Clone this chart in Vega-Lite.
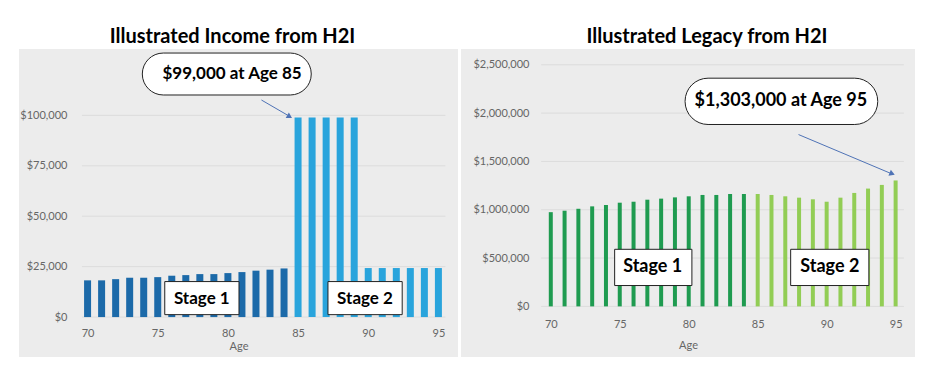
{
  "$schema": "https://vega.github.io/schema/vega-lite/v6.json",
  "padding": {"left": 19, "top": 27, "right": 0, "bottom": 0},
  "background": "white",
  "spacing": 3,
  "resolve": {"scale": {"color": "independent"}},
  "config": {
    "font": "Lato",
    "view": {"fill": "#ececec", "stroke": null},
    "axis": {"labelFont": "Lato", "labelColor": "#666666", "labelFontSize": 11, "titleFont": "Lato", "titleColor": "#666666", "titleFontSize": 11, "titleFontWeight": "normal", "grid": false, "ticks": false, "domain": false},
    "title": {"font": "Lato", "fontSize": 20, "fontWeight": "bold", "color": "#000000", "offset": 2}
  },
  "datasets": {
    "income": [
      {"age": 70, "value": 18200, "stage": "Stage 1"},
      {"age": 71, "value": 18200, "stage": "Stage 1"},
      {"age": 72, "value": 18800, "stage": "Stage 1"},
      {"age": 73, "value": 19500, "stage": "Stage 1"},
      {"age": 74, "value": 19500, "stage": "Stage 1"},
      {"age": 75, "value": 19800, "stage": "Stage 1"},
      {"age": 76, "value": 20500, "stage": "Stage 1"},
      {"age": 77, "value": 20800, "stage": "Stage 1"},
      {"age": 78, "value": 21300, "stage": "Stage 1"},
      {"age": 79, "value": 21300, "stage": "Stage 1"},
      {"age": 80, "value": 21800, "stage": "Stage 1"},
      {"age": 81, "value": 22300, "stage": "Stage 1"},
      {"age": 82, "value": 23000, "stage": "Stage 1"},
      {"age": 83, "value": 23500, "stage": "Stage 1"},
      {"age": 84, "value": 24100, "stage": "Stage 1"},
      {"age": 85, "value": 99000, "stage": "Stage 2"},
      {"age": 86, "value": 99000, "stage": "Stage 2"},
      {"age": 87, "value": 99000, "stage": "Stage 2"},
      {"age": 88, "value": 99000, "stage": "Stage 2"},
      {"age": 89, "value": 99000, "stage": "Stage 2"},
      {"age": 90, "value": 24300, "stage": "Stage 2"},
      {"age": 91, "value": 24300, "stage": "Stage 2"},
      {"age": 92, "value": 24300, "stage": "Stage 2"},
      {"age": 93, "value": 24300, "stage": "Stage 2"},
      {"age": 94, "value": 24300, "stage": "Stage 2"},
      {"age": 95, "value": 24300, "stage": "Stage 2"}
    ],
    "legacy": [
      {"age": 70, "value": 975000, "stage": "Stage 1"},
      {"age": 71, "value": 990000, "stage": "Stage 1"},
      {"age": 72, "value": 1010000, "stage": "Stage 1"},
      {"age": 73, "value": 1035000, "stage": "Stage 1"},
      {"age": 74, "value": 1049000, "stage": "Stage 1"},
      {"age": 75, "value": 1073000, "stage": "Stage 1"},
      {"age": 76, "value": 1083000, "stage": "Stage 1"},
      {"age": 77, "value": 1104000, "stage": "Stage 1"},
      {"age": 78, "value": 1115000, "stage": "Stage 1"},
      {"age": 79, "value": 1128000, "stage": "Stage 1"},
      {"age": 80, "value": 1139000, "stage": "Stage 1"},
      {"age": 81, "value": 1153000, "stage": "Stage 1"},
      {"age": 82, "value": 1153000, "stage": "Stage 1"},
      {"age": 83, "value": 1163000, "stage": "Stage 1"},
      {"age": 84, "value": 1163000, "stage": "Stage 1"},
      {"age": 85, "value": 1163000, "stage": "Stage 2"},
      {"age": 86, "value": 1153000, "stage": "Stage 2"},
      {"age": 87, "value": 1139000, "stage": "Stage 2"},
      {"age": 88, "value": 1125000, "stage": "Stage 2"},
      {"age": 89, "value": 1108000, "stage": "Stage 2"},
      {"age": 90, "value": 1083000, "stage": "Stage 2"},
      {"age": 91, "value": 1125000, "stage": "Stage 2"},
      {"age": 92, "value": 1174000, "stage": "Stage 2"},
      {"age": 93, "value": 1219000, "stage": "Stage 2"},
      {"age": 94, "value": 1257000, "stage": "Stage 2"},
      {"age": 95, "value": 1303000, "stage": "Stage 2"}
    ],
    "incomeGrid": [{"v": 0}, {"v": 25000}, {"v": 50000}, {"v": 75000}, {"v": 100000}],
    "legacyGrid": [{"v": 0}, {"v": 500000}, {"v": 1000000}, {"v": 1500000}, {"v": 2000000}, {"v": 2500000}],
    "one": [{"n": 1}]
  },
  "hconcat": [
    {
      "width": 439,
      "height": 308,
      "title": {"text": "Illustrated Income from H2I", "dx": -6},
      "layer": [
        {
          "data": {"name": "incomeGrid"},
          "mark": {"type": "rule", "color": "#dcdcdc", "strokeWidth": 1},
          "encoding": {
            "y": {"field": "v", "type": "quantitative", "scale": {"domain": [-19800, 132900], "nice": false, "zero": false}},
            "x": {"datum": 69.6, "type": "quantitative", "scale": {"domain": [65.47, 96.04], "nice": false, "zero": false}},
            "x2": {"datum": 95.5}
          }
        },
        {
          "data": {"name": "income"},
          "mark": {"type": "bar", "width": 7},
          "encoding": {
            "x": {"field": "age", "type": "quantitative", "scale": {"domain": [65.47, 96.04], "nice": false, "zero": false},
                  "axis": {"values": [70, 75, 80, 85, 90, 95], "title": "Age", "offset": -40, "labelPadding": 10, "titlePadding": 2}},
            "y": {"field": "value", "type": "quantitative", "scale": {"domain": [-19800, 132900], "nice": false, "zero": false},
                  "axis": {"values": [0, 25000, 50000, 75000, 100000], "format": "$,.0f", "title": null, "offset": -51, "labelPadding": 3}},
            "y2": {"datum": 0},
            "color": {"field": "stage", "type": "nominal", "scale": {"domain": ["Stage 1", "Stage 2"], "range": ["#1c6aa9", "#29a4dc"]}, "legend": null}
          }
        },
        {
          "data": {"name": "one"},
          "mark": {"type": "rect", "fill": "white", "stroke": "#222222", "strokeWidth": 1, "cornerRadius": 21},
          "encoding": {"x": {"datum": 73.9, "type": "quantitative"}, "x2": {"datum": 85.94}, "y": {"datum": 130900, "type": "quantitative"}, "y2": {"datum": 110100}}
        },
        {
          "data": {"name": "one"},
          "mark": {"type": "text", "text": "$99,000 at Age 85", "fontSize": 17, "fontWeight": "bold", "color": "#000000", "align": "center", "baseline": "middle"},
          "encoding": {"x": {"datum": 80.3, "type": "quantitative"}, "y": {"datum": 120500, "type": "quantitative"}}
        },
        {
          "data": {"values": [{"px": 82.39, "py": 107600, "o": 1}, {"px": 84.45, "py": 99300, "o": 2}]},
          "mark": {"type": "line", "color": "#4f73b6", "strokeWidth": 1},
          "encoding": {"x": {"field": "px", "type": "quantitative"}, "y": {"field": "py", "type": "quantitative"}, "order": {"field": "o"}}
        },
        {
          "data": {"name": "one"},
          "mark": {"type": "point", "shape": "triangle-right", "filled": true, "color": "#4f73b6", "size": 40, "angle": 30, "opacity": 1},
          "encoding": {"x": {"datum": 84.4, "type": "quantitative"}, "y": {"datum": 99400, "type": "quantitative"}}
        },
        {
          "data": {"values": [{"label": "Stage 1", "x1": 75.5, "x2": 80.79, "xc": 78.14}, {"label": "Stage 2", "x1": 87.13, "x2": 92.42, "xc": 89.77}]},
          "layer": [
            {
              "mark": {"type": "rect", "fill": "white", "stroke": "#222222", "strokeWidth": 1},
              "encoding": {"x": {"field": "x1", "type": "quantitative"}, "x2": {"field": "x2"}, "y": {"datum": 17600, "type": "quantitative"}, "y2": {"datum": 1200}}
            },
            {
              "mark": {"type": "text", "fontSize": 17, "fontWeight": "bold", "color": "#000000", "align": "center", "baseline": "middle"},
              "encoding": {"x": {"field": "xc", "type": "quantitative"}, "y": {"datum": 9200, "type": "quantitative"}, "text": {"field": "label"}}
            }
          ]
        }
      ]
    },
    {
      "width": 454,
      "height": 308,
      "title": {"text": "Illustrated Legacy from H2I", "dx": 19},
      "layer": [
        {
          "data": {"name": "legacyGrid"},
          "mark": {"type": "rule", "color": "#dcdcdc", "strokeWidth": 1},
          "encoding": {
            "y": {"field": "v", "type": "quantitative", "scale": {"domain": [-523900, 2663500], "nice": false, "zero": false}},
            "x": {"datum": 69.3, "type": "quantitative", "scale": {"domain": [63.853, 96.042], "nice": false, "zero": false}},
            "x2": {"datum": 95.6}
          }
        },
        {
          "data": {"name": "legacy"},
          "mark": {"type": "bar", "width": 4},
          "encoding": {
            "x": {"field": "age", "type": "quantitative", "scale": {"domain": [63.853, 96.042], "nice": false, "zero": false},
                  "axis": {"values": [70, 75, 80, 85, 90, 95], "title": "Age", "offset": -49, "labelPadding": 10, "titlePadding": 10}},
            "y": {"field": "value", "type": "quantitative", "scale": {"domain": [-523900, 2663500], "nice": false, "zero": false},
                  "axis": {"values": [0, 500000, 1000000, 1500000, 2000000, 2500000], "format": "$,.0f", "title": null, "offset": -71, "labelPadding": 3}},
            "y2": {"datum": 0},
            "color": {"field": "stage", "type": "nominal", "scale": {"domain": ["Stage 1", "Stage 2"], "range": ["#1f9b50", "#92cd55"]}, "legend": null}
          }
        },
        {
          "data": {"name": "one"},
          "mark": {"type": "rect", "fill": "white", "stroke": "#222222", "strokeWidth": 1, "cornerRadius": 23},
          "encoding": {"x": {"datum": 79.735, "type": "quantitative"}, "x2": {"datum": 93.703}, "y": {"datum": 2361500, "type": "quantitative"}, "y2": {"datum": 1882300}}
        },
        {
          "data": {"name": "one"},
          "mark": {"type": "text", "text": "$1,303,000 at Age 95", "fontSize": 18, "fontWeight": "bold", "color": "#000000", "align": "center", "baseline": "middle"},
          "encoding": {"x": {"datum": 86.68, "type": "quantitative"}, "y": {"datum": 2121900, "type": "quantitative"}}
        },
        {
          "data": {"values": [{"px": 87.96, "py": 1778200, "o": 1}, {"px": 94.75, "py": 1370000, "o": 2}]},
          "mark": {"type": "line", "color": "#4f73b6", "strokeWidth": 1},
          "encoding": {"x": {"field": "px", "type": "quantitative"}, "y": {"field": "py", "type": "quantitative"}, "order": {"field": "o"}}
        },
        {
          "data": {"name": "one"},
          "mark": {"type": "point", "shape": "triangle-right", "filled": true, "color": "#4f73b6", "size": 40, "angle": 22, "opacity": 1},
          "encoding": {"x": {"datum": 94.75, "type": "quantitative"}, "y": {"datum": 1372000, "type": "quantitative"}}
        },
        {
          "data": {"values": [{"label": "Stage 1", "x1": 74.63, "x2": 80.23, "xc": 77.39}, {"label": "Stage 2", "x1": 87.39, "x2": 93.06, "xc": 90.23}]},
          "layer": [
            {
              "mark": {"type": "rect", "fill": "white", "stroke": "#222222", "strokeWidth": 1},
              "encoding": {"x": {"field": "x1", "type": "quantitative"}, "x2": {"field": "x2"}, "y": {"datum": 590600, "type": "quantitative"}, "y2": {"datum": 215600}}
            },
            {
              "mark": {"type": "text", "fontSize": 18, "fontWeight": "bold", "color": "#000000", "align": "center", "baseline": "middle"},
              "encoding": {"x": {"field": "xc", "type": "quantitative"}, "y": {"datum": 403100, "type": "quantitative"}, "text": {"field": "label"}}
            }
          ]
        }
      ]
    }
  ]
}
